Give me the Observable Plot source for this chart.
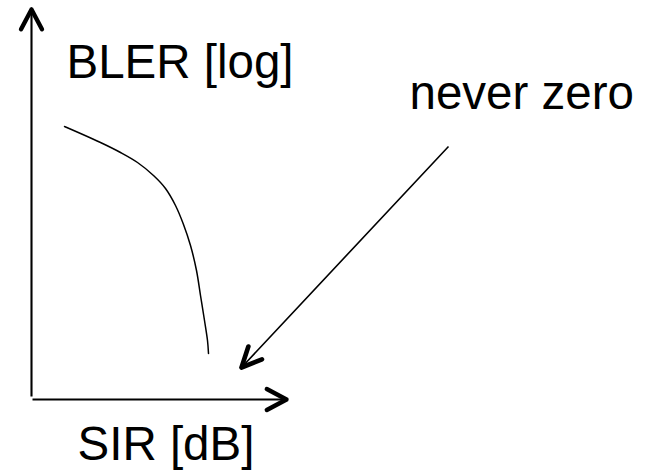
<!DOCTYPE html>
<html>
<head>
<meta charset="utf-8">
<script src="https://cdn.jsdelivr.net/npm/d3@7"></script>
<script src="https://cdn.jsdelivr.net/npm/@observablehq/plot@0.6"></script>
<style>
  html, body { margin: 0; padding: 0; background: #fff; }
  svg { display: block; }
</style>
</head>
<body>
<div id="chart"></div>
<script>
// Schematic coordinate system (x: SIR units, y: BLER units, origin bottom-left)
const curveSIR  = [64, 100, 120, 137, 153, 165, 175, 183, 190, 196, 200, 204, 207, 208];
const curveBLER = [346, 330, 320, 310, 297, 284, 267, 248, 227, 202, 177, 152, 132, 119];

const axisNames = ["BLER", "SIR"];
const axisX1 = [31, 32];
const axisY1 = [76, 73];
const axisX2 = [31, 286];
const axisY2 = [463, 73];

const noteX1 = [448];
const noteY1 = [326];
const noteX2 = [241];
const noteY2 = [105];

const labelText = ["BLER [log]", "never zero", "SIR [dB]"];
const labelX = [66, 409, 77];
const labelY = [410, 379, 28];

const curve = curveSIR.map((x, i) => ({x, y: curveBLER[i]}));
const axes = axisNames.map((n, i) => ({n, x1: axisX1[i], y1: axisY1[i], x2: axisX2[i], y2: axisY2[i]}));
const notes = noteX1.map((x1, i) => ({x1, y1: noteY1[i], x2: noteX2[i], y2: noteY2[i]}));
const labels = labelText.map((t, i) => ({t, x: labelX[i], y: labelY[i]}));

// heavier arrowheads: same arrow again, its shaft inset almost entirely away
function heads(rows, sw, headLength, headAngle) {
  return rows.map(r => {
    const L = Math.hypot(r.x2 - r.x1, r.y2 - r.y1);
    return Plot.arrow([r], {
      x1: "x1", y1: "y1", x2: "x2", y2: "y2",
      stroke: "black", strokeWidth: sw, headLength, headAngle,
      strokeLinecap: "round", strokeLinejoin: "round",
      insetStart: L - 2
    });
  });
}

const chart = Plot.plot({
  width: 650,
  height: 472,
  margin: 0,
  style: {fontFamily: "'Liberation Sans', Arial, sans-serif", background: "#fff"},
  x: {domain: [0, 650], range: [0, 650], axis: null},
  y: {domain: [0, 472], range: [472, 0], axis: null},
  marks: [
    Plot.arrow(axes, {x1: "x1", y1: "y1", x2: "x2", y2: "y2", stroke: "black", strokeWidth: 2.1, headLength: 15, headAngle: 56, strokeLinecap: "butt", strokeLinejoin: "round"}),
    ...heads(axes, 4.4, 7.6, 56),
    Plot.line(curve, {x: "x", y: "y", curve: "catmull-rom", stroke: "black", strokeWidth: 1.5}),
    Plot.arrow(notes, {x1: "x1", y1: "y1", x2: "x2", y2: "y2", stroke: "black", strokeWidth: 1.6, headLength: 20, headAngle: 50, strokeLinecap: "butt", strokeLinejoin: "round"}),
    ...heads(notes, 4.6, 7.2, 50),
    Plot.text(labels, {x: "x", y: "y", text: "t", textAnchor: "start", fontSize: 47.5, fill: "black", fontWeight: "normal"})
  ]
});
document.getElementById("chart").appendChild(chart);
</script>
</body>
</html>
